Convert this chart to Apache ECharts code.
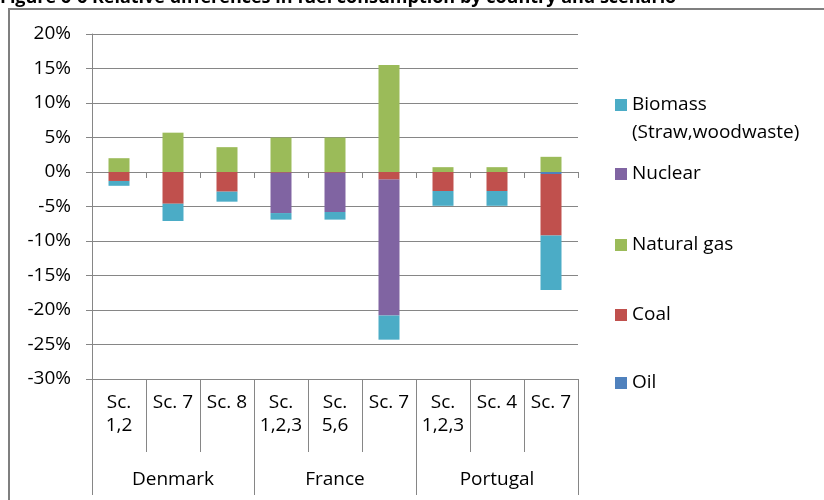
<!DOCTYPE html>
<html>
<head>
<meta charset="utf-8">
<script src="https://cdn.jsdelivr.net/npm/echarts@6/dist/echarts.min.js"></script>
<style>
  html, body { margin: 0; padding: 0; background: #fff; }
  #chart { width: 824px; height: 500px; }
</style>
</head>
<body>
<div id="chart"></div>
<script>
// scenarios per country (bottom axis, two levels)
var scenarios = ['Sc.\n1,2', 'Sc. 7', 'Sc. 8', 'Sc.\n1,2,3', 'Sc.\n5,6', 'Sc. 7', 'Sc.\n1,2,3', 'Sc. 4', 'Sc. 7'];
var countries = ['Denmark', 'France', 'Portugal'];

// relative differences, %
var oil      = [0, 0, 0, 0, 0, 0, 0, 0, -0.3];
var coal     = [-1.3, -4.6, -2.85, -0.1, -0.1, -1.1, -2.75, -2.75, -8.9];
var gas      = [2.0, 5.7, 3.6, 5.0, 5.0, 15.5, 0.7, 0.7, 2.2];
var nuclear  = [0, 0, 0, -5.85, -5.7, -19.7, 0, 0, 0];
var biomass  = [-0.7, -2.5, -1.45, -0.95, -1.1, -3.5, -2.15, -2.15, -7.9];

var font = '"Open Sans", Lato, sans-serif';
var gray = '#868686';

var chart = echarts.init(document.getElementById('chart'));

function legendItem(name, top, label) {
    var l = {
        data: [name],
        left: 615,
        top: top,
        padding: 0,
        itemWidth: 12,
        itemHeight: 12,
        icon: 'rect',
        selectedMode: false,
        textStyle: { fontFamily: font, fontSize: 19, color: '#000', lineHeight: 20 }
    };
    if (label) {
        // empty first line keeps the icon level with "Biomass"
        l.formatter = label;
        l.textStyle.lineHeight = 28;
    }
    return l;
}

var option = {
    animation: false,
    title: {
        text: 'Figure 6-6 Relative differences in fuel consumption by country and scenario',
        left: 0,
        top: -11,
        padding: 0,
        textStyle: { fontFamily: font, fontSize: 18, fontWeight: 'bold', color: '#000' }
    },
    graphic: [{
        type: 'rect',
        shape: { x: 9, y: 9, width: 1000, height: 1000 },
        style: { fill: 'none', stroke: '#7f7f7f', lineWidth: 2 },
        silent: true
    }],
    legend: [
        legendItem('Biomass', 63, '\nBiomass\n(Straw,woodwaste)'),
        legendItem('Nuclear', 164),
        legendItem('Natural gas', 235),
        legendItem('Coal', 305),
        legendItem('Oil', 373)
    ],
    grid: { left: 92, right: 246, top: 34, bottom: 121 },
    xAxis: [
        {
            // axis on the zero line, only ticks
            type: 'category',
            data: scenarios,
            axisLine: { onZero: true, lineStyle: { color: gray } },
            axisTick: { show: true, length: 6, interval: 0, lineStyle: { color: gray } },
            axisLabel: { show: false },
            splitLine: { show: false }
        },
        {
            type: 'category',
            data: scenarios,
            position: 'bottom',
            axisLine: { show: false, onZero: false },
            axisTick: { show: true, length: 73, interval: 0, lineStyle: { color: gray } },
            axisLabel: { interval: 0, margin: 12, fontFamily: font, fontSize: 19, lineHeight: 23, color: '#000' }
        },
        {
            type: 'category',
            data: countries,
            position: 'bottom',
            axisLine: { show: false, onZero: false },
            axisTick: { show: true, length: 116, interval: 0, lineStyle: { color: gray } },
            axisLabel: { interval: 0, margin: 89, fontFamily: font, fontSize: 19, lineHeight: 23, color: '#000' }
        }
    ],
    yAxis: {
        type: 'value',
        min: -30,
        max: 20,
        interval: 5,
        axisLine: { show: true, lineStyle: { color: gray } },
        axisTick: { show: true, length: 6, lineStyle: { color: gray } },
        axisLabel: { formatter: '{value}%', margin: 21, fontFamily: font, fontSize: 19, color: '#000' },
        splitLine: { lineStyle: { color: gray } }
    },
    series: [
        { name: 'Oil', type: 'bar', stack: 'fuel', data: oil, barWidth: 21, itemStyle: { color: '#4F81BD' } },
        { name: 'Coal', type: 'bar', stack: 'fuel', data: coal, barWidth: 21, itemStyle: { color: '#C0504D' } },
        { name: 'Natural gas', type: 'bar', stack: 'fuel', data: gas, barWidth: 21, itemStyle: { color: '#9BBB59' } },
        { name: 'Nuclear', type: 'bar', stack: 'fuel', data: nuclear, barWidth: 21, itemStyle: { color: '#8064A2' } },
        { name: 'Biomass', type: 'bar', stack: 'fuel', data: biomass, barWidth: 21, itemStyle: { color: '#4BACC6' } }
    ]
};
chart.setOption(option);
</script>
</body>
</html>
